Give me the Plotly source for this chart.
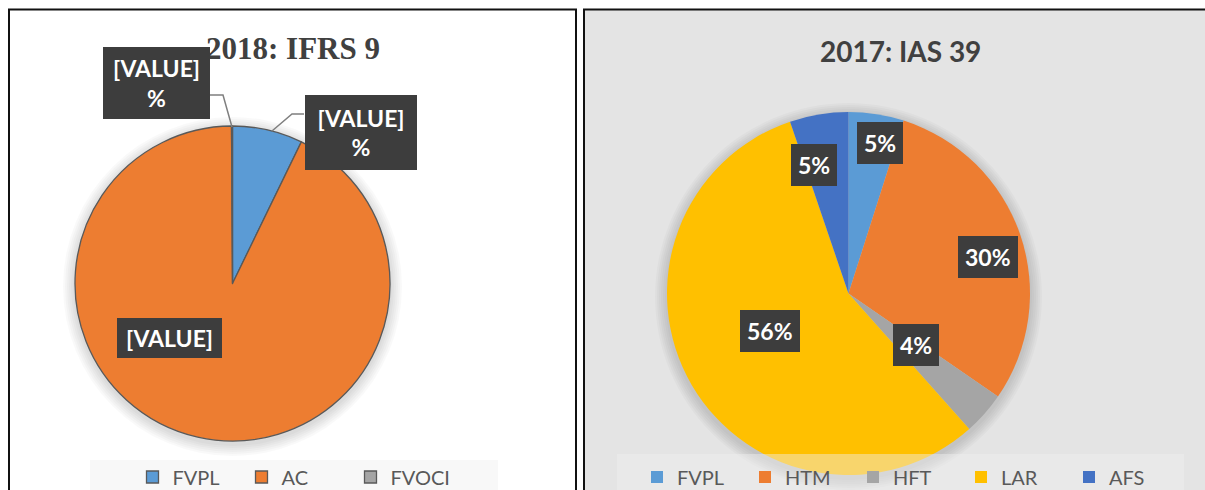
import plotly.graph_objects as go

W, H = 1205, 490
OFF = 0  # body margin removed via post_script

# ---- data ----
cats_2018 = ["FVPL", "AC", "FVOCI"]
vals_2018 = [7.2, 92.7, 0.1]
labels_2018 = ["[VALUE]<br>%", "[VALUE]", "[VALUE]<br>%"]
colors_2018 = ["#5b9bd5", "#ed7d31", "#a5a5a5"]

cats_2017 = ["FVPL ", "HTM", "HFT", "LAR", "AFS"]
vals_2017 = [4.9, 29.6, 3.8, 56.2, 5.2]
colors_2017 = ["#5b9bd5", "#ed7d31", "#a5a5a5", "#ffc000", "#4472c4"]


def px(x):
    return (x - OFF) / W


def py(y):
    return 1 - (y - OFF) / H


fig = go.Figure()

fig.add_trace(go.Pie(
    labels=cats_2018, values=vals_2018, sort=False, direction="clockwise",
    rotation=0, marker=dict(colors=colors_2018, line=dict(color="#595959", width=1.3)),
    textinfo="none", hoverinfo="label+percent",
    domain=dict(x=[px(75), px(390)], y=[py(441), py(126)]),
    legend="legend",
))

fig.add_trace(go.Pie(
    labels=cats_2017, values=vals_2017, sort=False, direction="clockwise",
    rotation=0, marker=dict(colors=colors_2017, line=dict(width=0)),
    textinfo="none", hoverinfo="label+percent",
    domain=dict(x=[px(667), px(1030)], y=[py(475), py(112)]),
    legend="legend2",
))


def glow(cx, cy, r, steps=6, dy=3):
    out = []
    for i in range(steps, 0, -1):
        rr = r + 2 * i
        out.append(dict(type="circle", xref="paper", yref="paper",
                        x0=px(cx - rr), x1=px(cx + rr), y0=py(cy + dy + rr), y1=py(cy + dy - rr),
                        fillcolor="rgba(0,0,0,0.025)", line=dict(width=0), layer="below"))
    return out


shapes = [
    # panel backgrounds / borders
    dict(type="rect", xref="paper", yref="paper", x0=px(9), x1=px(576), y0=-0.05, y1=py(9.5),
         fillcolor="white", line=dict(color="#111111", width=2), layer="below"),
    dict(type="rect", xref="paper", yref="paper", x0=px(584), x1=1.05, y0=-0.05, y1=py(9.5),
         fillcolor="#e4e4e4", line=dict(color="#111111", width=2), layer="below"),
]
shapes += glow(232.5, 283.5, 157.5)
shapes += glow(848.5, 293.5, 181.5)
shapes += [
    # legend backgrounds
    dict(type="rect", xref="paper", yref="paper", x0=px(90), x1=px(498), y0=-0.02, y1=py(460),
         fillcolor="rgba(240,240,240,0.45)", line=dict(width=0), layer="above"),
    dict(type="rect", xref="paper", yref="paper", x0=px(617), x1=px(1184), y0=-0.02, y1=py(454),
         fillcolor="rgba(240,240,240,0.45)", line=dict(width=0), layer="above"),
    # leader lines (left chart)
    dict(type="path", xref="paper", yref="paper",
         path=f"M {px(210)},{py(95)} L {px(223)},{py(95)} L {px(232)},{py(127)}",
         line=dict(color="#7f7f7f", width=1.5)),
    dict(type="path", xref="paper", yref="paper",
         path=f"M {px(304)},{py(114)} L {px(292)},{py(114)} L {px(272)},{py(131)}",
         line=dict(color="#7f7f7f", width=1.5)),
]

box = dict(bgcolor="#3d3d3d", bordercolor="#3d3d3d", borderwidth=0)

annotations = [
    dict(text="<b>2018: IFRS 9</b>", x=px(292.5), y=py(49),
         font=dict(family="Liberation Serif", size=31, color="#404040")),
    dict(text="<b>2017: IAS 39</b>", x=px(900.5), y=py(51),
         font=dict(family="Lato", size=28, color="#404040")),
    # left chart labels
    dict(text="<b>" + labels_2018[2] + "</b>", x=px(156.5), y=py(83), width=101, height=66,
         borderpad=3, **box),
    dict(text="<b>" + labels_2018[0] + "</b>", x=px(361), y=py(132.5), width=106, height=69,
         borderpad=3, **box),
    dict(text="<b>" + labels_2018[1] + "</b>", x=px(169.5), y=py(338), width=99, height=34,
         borderpad=3, **box),
]
# right chart labels
right_pos = [(880, 143), (988, 257), (916, 345), (770, 331), (814, 165)]
for v, (x, y) in zip(vals_2017, right_pos):
    t = f"{round(v / sum(vals_2017) * 100)}%"
    annotations.append(dict(text=f"<b>{t}</b>", x=px(x), y=py(y), borderpad=7, **box))

for i, a in enumerate(annotations):
    a.update(xref="paper", yref="paper", showarrow=False, xanchor="center", yanchor="middle")
    if i >= 2:
        a["font"] = dict(family="Lato", size=23, color="white")

fig.update_layout(
    width=W, height=H,
    margin=dict(l=0, r=0, t=0, b=0, autoexpand=False),
    paper_bgcolor="white",
    shapes=shapes,
    annotations=annotations,
    legend=dict(orientation="h", x=px(296), xanchor="center", y=py(477), yanchor="middle",
                bgcolor="rgba(0,0,0,0)", font=dict(family="Lato", size=20, color="#595959"),
                entrywidth=64, itemwidth=30, traceorder="normal"),
    legend2=dict(orientation="h", x=px(907), xanchor="center", y=py(477), yanchor="middle",
                 bgcolor="rgba(0,0,0,0)", font=dict(family="Lato", size=20, color="#595959"),
                 entrywidth=63, itemwidth=30, traceorder="normal"),
)

fig.write_html(
    "out.html",
    config={"displayModeBar": False},
    post_script="document.body.style.margin='0';document.body.style.overflow='hidden';",
)
